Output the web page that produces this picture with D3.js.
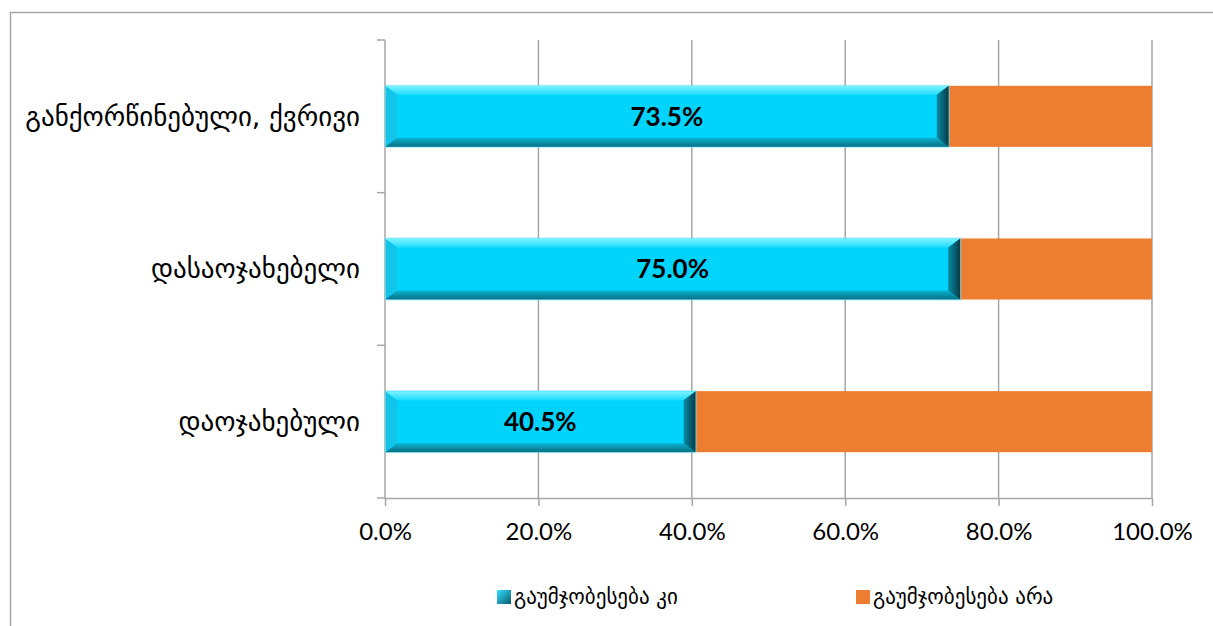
<!DOCTYPE html>
<html>
<head>
<meta charset="utf-8">
<script src="https://cdn.jsdelivr.net/npm/d3@7"></script>
<style>
  body { margin: 0; background: #fff; }
  svg { display: block; }
</style>
</head>
<body>
<div id="chart-area"></div>
<script>
// data
var categories = ["განქორწინებული, ქვრივი", "დასაოჯახებელი", "დაოჯახებული"];
var yesValues = [73.5, 75.0, 40.5];
var noValues = [26.5, 25.0, 59.5];
var seriesNames = ["გაუმჯობესება კი", "გაუმჯობესება არა"];
var xTicks = [0, 20, 40, 60, 80, 100];

var svgWidth = 1213, svgHeight = 626;
var margin = { top: 40, left: 385, right: 61, bottom: 128 };
var width = svgWidth - margin.left - margin.right;
var height = svgHeight - margin.top - margin.bottom;

var geoFont = "'DejaVu Sans', 'Noto Sans', sans-serif";
var numFont = "Lato, 'Open Sans', sans-serif";

var svg = d3.select("#chart-area").append("svg")
    .attr("width", svgWidth)
    .attr("height", svgHeight);

// gradients for bevelled cyan bars
var defs = svg.append("defs");
var gTop = defs.append("linearGradient").attr("id", "bevTop").attr("x1", 0).attr("y1", 0).attr("x2", 0).attr("y2", 1);
gTop.append("stop").attr("offset", "0%").attr("stop-color", "#7ef3ff");
gTop.append("stop").attr("offset", "100%").attr("stop-color", "#1fdcff");
var gBot = defs.append("linearGradient").attr("id", "bevBot").attr("x1", 0).attr("y1", 0).attr("x2", 0).attr("y2", 1);
gBot.append("stop").attr("offset", "0%").attr("stop-color", "#08b4d2");
gBot.append("stop").attr("offset", "100%").attr("stop-color", "#0a6e82");
var gRight = defs.append("linearGradient").attr("id", "bevRight").attr("x1", 0).attr("y1", 0).attr("x2", 1).attr("y2", 0);
gRight.append("stop").attr("offset", "0%").attr("stop-color", "#0a8aa3");
gRight.append("stop").attr("offset", "100%").attr("stop-color", "#063a46");
var gLeg = defs.append("linearGradient").attr("id", "legGrad").attr("x1", 0).attr("y1", 0).attr("x2", 1).attr("y2", 1);
gLeg.append("stop").attr("offset", "0%").attr("stop-color", "#33e0ff");
gLeg.append("stop").attr("offset", "100%").attr("stop-color", "#075a6c");

// chart border
svg.append("path")
    .attr("d", "M10.5," + svgHeight + " V12.5 H" + svgWidth)
    .attr("fill", "none")
    .attr("stroke", "#a6a6a6")
    .attr("stroke-width", 1.5);

var graph = svg.append("g")
    .attr("transform", "translate(" + margin.left + "," + margin.top + ")");

var xScale = d3.scaleLinear().domain([0, 100]).range([0, width]);
var yScale = d3.scaleBand().domain(categories).range([0, height]).paddingInner(0.6).paddingOuter(0.3);
var yOuter = d3.scaleBand().domain(categories).range([0, height]);

// gridlines
graph.append("g").attr("class", "grid")
    .selectAll("line").data(xTicks.slice(1)).enter().append("line")
    .attr("x1", d => xScale(d)).attr("x2", d => xScale(d))
    .attr("y1", 0).attr("y2", height)
    .attr("stroke", "#a6a6a6").attr("stroke-width", 1.5);

// x axis
var xAxisCall = d3.axisBottom(xScale)
    .tickValues(xTicks)
    .tickSize(8)
    .tickPadding(17)
    .tickFormat(d => d.toFixed(1) + "%");
var xAxis = graph.append("g").attr("class", "x-axis")
    .attr("transform", "translate(0," + height + ")")
    .call(xAxisCall);
xAxis.select(".domain").attr("stroke", "#a6a6a6").attr("stroke-width", 1.5).attr("d", "M0,0.5H" + width);
xAxis.selectAll(".tick line").attr("stroke", "#a6a6a6").attr("stroke-width", 1.5);
xAxis.selectAll("text").attr("font-family", numFont).attr("font-size", "24px").attr("fill", "#000");

// y axis (ticks at category boundaries)
var yBounds = categories.map(c => yOuter(c)).concat([height]);
graph.append("line")
    .attr("x1", 0).attr("x2", 0).attr("y1", 0).attr("y2", height)
    .attr("stroke", "#a6a6a6").attr("stroke-width", 1.5);
graph.append("g").selectAll("line").data(yBounds).enter().append("line")
    .attr("x1", -8).attr("x2", 0)
    .attr("y1", d => d).attr("y2", d => d)
    .attr("stroke", "#a6a6a6").attr("stroke-width", 1.5);

graph.append("g").selectAll("text").data(categories).enter().append("text")
    .attr("x", -25)
    .attr("y", d => yScale(d) + yScale.bandwidth() / 2)
    .attr("dy", "0.35em")
    .attr("text-anchor", "end")
    .attr("font-family", geoFont)
    .attr("font-size", "27px")
    .attr("fill", "#000")
    .text(d => d);

// orange bars
graph.append("g").selectAll("rect").data(categories).enter().append("rect")
    .attr("x", (d, i) => xScale(yesValues[i]))
    .attr("y", d => yScale(d))
    .attr("width", (d, i) => xScale(noValues[i]))
    .attr("height", yScale.bandwidth())
    .attr("fill", "#ed7d31");

// cyan bevelled bars
var bw = 12, bh = 9;
var yesBars = graph.append("g").selectAll("g").data(categories).enter().append("g");
yesBars.each(function(d, i) {
    var g = d3.select(this);
    var x0 = xScale(0), x1 = xScale(yesValues[i]);
    var y0 = yScale(d), y1 = y0 + yScale.bandwidth();
    g.append("rect").attr("x", x0).attr("y", y0).attr("width", x1 - x0).attr("height", y1 - y0).attr("fill", "#00d4fc");
    g.append("polygon").attr("fill", "url(#bevTop)")
        .attr("points", [[x0, y0], [x1, y0], [x1 - bw, y0 + bh], [x0 + bw, y0 + bh]].join(" "));
    g.append("polygon").attr("fill", "url(#bevBot)")
        .attr("points", [[x0 + bw, y1 - bh], [x1 - bw, y1 - bh], [x1, y1], [x0, y1]].join(" "));
    g.append("polygon").attr("fill", "#12c4e8")
        .attr("points", [[x0, y0], [x0 + bw, y0 + bh], [x0 + bw, y1 - bh], [x0, y1]].join(" "));
    g.append("polygon").attr("fill", "url(#bevRight)")
        .attr("points", [[x1 - bw, y0 + bh], [x1, y0], [x1, y1], [x1 - bw, y1 - bh]].join(" "));
    g.append("rect").attr("x", x0 + 0.5).attr("y", y0 - 0.5).attr("width", x1 - x0).attr("height", y1 - y0 + 1)
        .attr("fill", "none").attr("stroke", "#7fe3f5").attr("stroke-width", 1).attr("stroke-opacity", 0.6);
    g.append("text")
        .attr("x", (x0 + x1) / 2)
        .attr("y", (y0 + y1) / 2)
        .attr("dy", "0.36em")
        .attr("text-anchor", "middle")
        .attr("font-family", numFont)
        .attr("font-weight", "bold")
        .attr("font-size", "26px")
        .attr("fill", "#000")
        .text(yesValues[i].toFixed(1) + "%");
});

// legend
var legendX = [497, 856];
var legend = svg.append("g").selectAll("g").data(seriesNames).enter().append("g")
    .attr("transform", (d, i) => "translate(" + legendX[i] + ",590)");
legend.append("rect")
    .attr("width", 14).attr("height", 14)
    .attr("fill", (d, i) => i === 0 ? "url(#legGrad)" : "#ed7d31");
legend.append("text")
    .attr("x", 17).attr("y", 7).attr("dy", "0.35em")
    .attr("font-family", geoFont)
    .attr("font-size", "21px")
    .attr("fill", "#000")
    .text(d => d);
</script>
</body>
</html>
